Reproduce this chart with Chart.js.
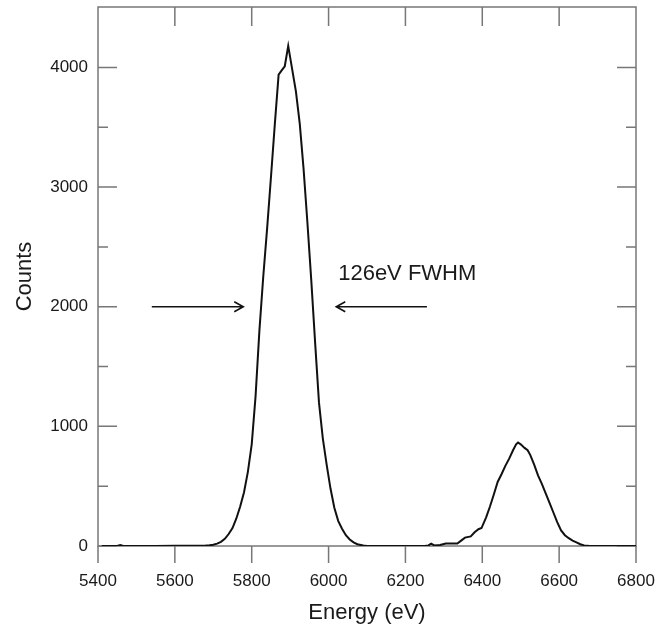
<!DOCTYPE html>
<html>
<head>
<meta charset="utf-8">
<script src="https://cdn.jsdelivr.net/npm/chart.js@4.4.0/dist/chart.umd.min.js"></script>
<style>
  html, body { margin: 0; padding: 0; background: #fff; }
  #wrap { width: 670px; height: 627px; }
</style>
</head>
<body>
<div id="wrap"><canvas id="myChart" width="670" height="627"></canvas></div>
<script>
// spectrum (eV, counts)
var energy = [5410, 5450, 5458, 5466, 5550, 5600, 5650, 5680, 5690, 5700, 5710, 5720, 5730, 5740,
  5750, 5760, 5770, 5780, 5790, 5800, 5810, 5820, 5830, 5840, 5850, 5860, 5870, 5878, 5886, 5895,
  5905, 5915, 5925, 5935, 5945, 5955, 5965, 5975, 5985, 5995, 6005, 6015, 6025, 6035, 6045, 6055,
  6065, 6075, 6090, 6100, 6150, 6200, 6250, 6260, 6267, 6275, 6290, 6305, 6335, 6345, 6355, 6370,
  6380, 6390, 6398, 6410, 6420, 6430, 6440, 6450, 6460, 6470, 6480, 6488, 6493, 6500, 6510, 6518,
  6525, 6535, 6545, 6555, 6565, 6575, 6585, 6595, 6605, 6615, 6625, 6635, 6645, 6655, 6665, 6680,
  6750, 6800];
var counts = [0, 0, 8, 0, 0, 3, 3, 4, 6, 10, 20, 35, 60, 100,
  150, 230, 330, 450, 620, 850, 1250, 1800, 2250, 2650, 3080, 3520, 3940, 3975, 4010, 4180,
  3990, 3800, 3530, 3150, 2700, 2220, 1700, 1200, 900, 680, 480, 320, 210, 145, 90, 55,
  30, 15, 4, 0, 0, 0, 0, 5, 20, 5, 8, 20, 20, 45, 70, 80,
  115, 140, 150, 240, 330, 430, 535, 600, 670, 730, 800, 850, 865, 850, 820, 800,
  760, 680, 590, 520, 440, 360, 280, 200, 130, 90, 65, 45, 30, 15, 5, 0,
  0, 0];

var xTicks = [5400, 5600, 5800, 6000, 6200, 6400, 6600, 6800];
var yTicks = [0, 500, 1000, 1500, 2000, 2500, 3000, 3500, 4000];

// FWHM arrows at 2000 counts
var arrowLevel = 2000;
var arrowLeft = [5540, 5778];
var arrowRight = [6256, 6020];
var noteText = '126eV FWHM';
var notePos = [6025, 2270];

var fam = "'Liberation Sans', Arial, sans-serif";
var tickFont = { family: fam, size: 17 };
var titleFont = { family: fam, size: 22 };

var pts = [];
for (var i = 0; i < energy.length; i++) {
  pts.push({ x: energy[i], y: counts[i] });
}

var framePlugin = {
  id: 'frame',
  beforeDatasetsDraw: function (chart) {
    var ctx = chart.ctx, a = chart.chartArea;
    var xs = chart.scales.x, ys = chart.scales.y;
    ctx.save();
    ctx.strokeStyle = '#777';
    ctx.lineWidth = 1.5;
    ctx.strokeRect(a.left, a.top, a.right - a.left, a.bottom - a.top);
    ctx.beginPath();
    // y ticks inward on both sides
    yTicks.forEach(function (v) {
      var y = ys.getPixelForValue(v);
      var len = (v % 1000 === 0) ? 19 : 10;
      ctx.moveTo(a.left, y); ctx.lineTo(a.left + len, y);
      ctx.moveTo(a.right, y); ctx.lineTo(a.right - len, y);
    });
    // x ticks: inward on top, outward on bottom
    xTicks.forEach(function (v) {
      var x = xs.getPixelForValue(v);
      if (v !== 5400 && v !== 6800) {
        ctx.moveTo(x, a.top); ctx.lineTo(x, a.top + 19);
      }
      ctx.moveTo(x, a.bottom); ctx.lineTo(x, a.bottom + 17);
    });
    ctx.stroke();
    ctx.restore();
  },
  afterDatasetsDraw: function (chart) {
    var ctx = chart.ctx;
    var xs = chart.scales.x, ys = chart.scales.y;
    var y = ys.getPixelForValue(arrowLevel);
    function arrow(x1, x2) {
      var dir = x2 > x1 ? 1 : -1;
      ctx.beginPath();
      ctx.moveTo(x1, y); ctx.lineTo(x2, y);
      ctx.moveTo(x2 - dir * 9, y - 5); ctx.lineTo(x2, y); ctx.lineTo(x2 - dir * 9, y + 5);
      ctx.stroke();
    }
    ctx.save();
    ctx.strokeStyle = '#111';
    ctx.lineWidth = 1.6;
    arrow(xs.getPixelForValue(arrowLeft[0]), xs.getPixelForValue(arrowLeft[1]));
    arrow(xs.getPixelForValue(arrowRight[0]), xs.getPixelForValue(arrowRight[1]));
    ctx.fillStyle = '#1a1a1a';
    ctx.font = "22px " + fam;
    ctx.textBaseline = 'middle';
    ctx.textAlign = 'left';
    ctx.fillText(noteText, xs.getPixelForValue(notePos[0]), ys.getPixelForValue(notePos[1]));
    ctx.restore();
  }
};

var ctx = document.getElementById('myChart').getContext('2d');
var chart = new Chart(ctx, {
  type: 'scatter',
  data: {
    datasets: [{
      data: pts,
      showLine: true,
      borderColor: '#111',
      borderWidth: 2,
      pointRadius: 0,
      tension: 0
    }]
  },
  options: {
    responsive: false,
    animation: false,
    devicePixelRatio: 1,
    layout: { padding: { top: 7, right: 34, left: 0, bottom: 0 } },
    plugins: { legend: { display: false }, tooltip: { enabled: false } },
    scales: {
      x: {
        type: 'linear',
        min: 5400,
        max: 6800,
        afterBuildTicks: function (s) { s.ticks = xTicks.map(function (v) { return { value: v }; }); },
        afterFit: function (s) { s.height = 81; s.paddingLeft = 0; s.paddingRight = 0; },
        grid: { display: false, drawTicks: false },
        border: { display: false },
        ticks: {
          font: tickFont, color: '#1a1a1a', padding: 25, maxRotation: 0, autoSkip: false,
          callback: function (v) { return String(v); }
        },
        title: { display: true, text: 'Energy (eV)', font: titleFont, color: '#1a1a1a', padding: { top: 0, bottom: 1 } }
      },
      y: {
        type: 'linear',
        min: 0,
        max: 4505,
        afterBuildTicks: function (s) { s.ticks = yTicks.map(function (v) { return { value: v }; }); },
        afterFit: function (s) { s.width = 98; s.paddingTop = 0; s.paddingBottom = 0; },
        grid: { display: false, drawTicks: false },
        border: { display: false },
        ticks: {
          font: tickFont, color: '#1a1a1a', padding: 10, autoSkip: false,
          callback: function (v) { return v % 1000 === 0 ? String(v) : ''; }
        },
        title: { display: true, text: 'Counts', font: titleFont, color: '#1a1a1a', padding: { top: 12, bottom: 0 } }
      }
    }
  },
  plugins: [framePlugin]
});
</script>
</body>
</html>
